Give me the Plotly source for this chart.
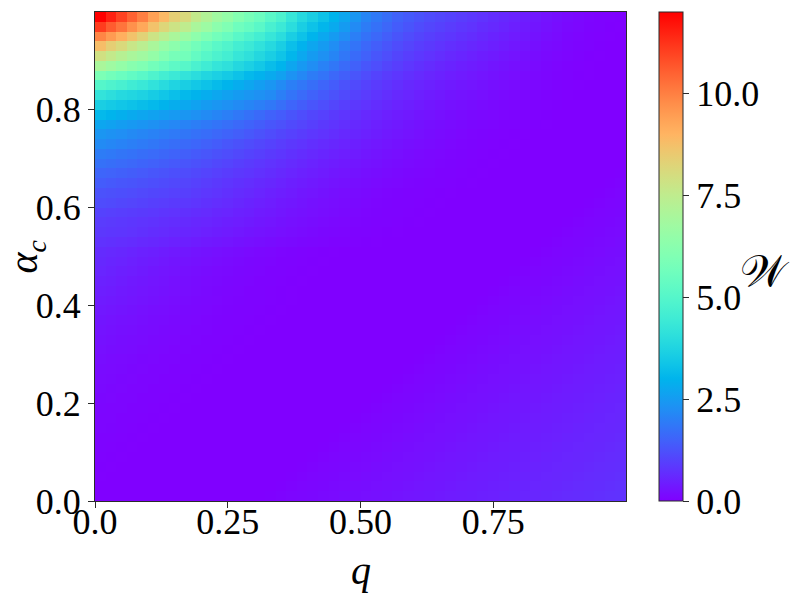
import math
import plotly.graph_objects as go

# q (x) cell centres and alpha_c (y) cell centres, top row first
Q = [0.01,0.03,0.05,0.07,0.09,0.11,0.13,0.15,0.17,0.19,0.21,0.23,0.25,0.27,0.29,0.31,0.33,0.35,0.37,0.39,
     0.41,0.43,0.45,0.47,0.49,0.51,0.53,0.55,0.57,0.59,0.61,0.63,0.65,0.67,0.69,0.71,0.73,0.75,0.77,0.79,
     0.81,0.83,0.85,0.87,0.89,0.91,0.93,0.95,0.97,0.99]
ALPHA = [0.99,0.97,0.95,0.93,0.91,0.89,0.87,0.85,0.83,0.81,0.79,0.77,0.75,0.73,0.71,0.69,0.67,0.65,0.63,0.61,
         0.59,0.57,0.55,0.53,0.51,0.49,0.47,0.45,0.43,0.41,0.39,0.37,0.35,0.33,0.31,0.29,0.27,0.25,0.23,0.21,
         0.19,0.17,0.15,0.13,0.11,0.09,0.07,0.05,0.03,0.01]

# W values, one list per alpha row (top row = alpha 0.99)
W = [
 [12.0,11.5,11.0,10.5,10.0,9.4,8.9,8.4,8.1,7.6, 7.2,6.8,6.5,6.1,5.8,5.5,5.1,4.8,4.3,3.9, 3.6,3.3,3.0,2.7,2.4,2.1,1.9,1.7,1.5,1.38, 1.26,1.16,1.08,1.0,0.92,0.84,0.76,0.68,0.6,0.52, 0.44,0.36,0.29,0.23,0.17,0.12,0.08,0.05,0.03,0.02],
 [11.1,10.6,10.2,9.7,9.25,8.7,8.2,7.8,7.5,7.0, 6.7,6.3,6.0,5.6,5.4,5.1,4.7,4.4,4.0,3.6, 3.3,3.05,2.8,2.5,2.2,1.95,1.75,1.58,1.4,1.28, 1.16,1.06,0.98,0.9,0.83,0.76,0.68,0.61,0.54,0.46, 0.39,0.32,0.25,0.19,0.14,0.1,0.06,0.04,0.02,0.01],
 [9.9,9.5,9.1,8.7,8.3,7.8,7.4,7.0,6.7,6.35, 6.0,5.7,5.45,5.1,4.85,4.6,4.3,4.0,3.6,3.3, 3.0,2.75,2.5,2.25,2.0,1.78,1.6,1.44,1.28,1.16, 1.05,0.96,0.88,0.81,0.74,0.67,0.6,0.53,0.47,0.4, 0.34,0.27,0.21,0.16,0.11,0.08,0.05,0.03,0.01,0.0],
 [8.8,8.4,8.1,7.7,7.4,7.0,6.6,6.3,6.0,5.7, 5.4,5.1,4.9,4.6,4.4,4.15,3.9,3.6,3.25,2.95, 2.7,2.5,2.25,2.0,1.8,1.6,1.44,1.29,1.15,1.04, 0.94,0.86,0.78,0.71,0.65,0.58,0.52,0.46,0.4,0.34, 0.28,0.23,0.17,0.13,0.09,0.06,0.04,0.02,0.0,0.0],
 [7.9,7.6,7.3,7.0,6.8,6.5,6.1,5.8,5.7,5.35, 5.05,4.8,4.6,4.3,4.1,3.85,3.6,3.35,3.05,2.75, 2.5,2.3,2.1,1.85,1.66,1.48,1.32,1.18,1.05,0.94, 0.84,0.76,0.69,0.62,0.56,0.5,0.44,0.39,0.33,0.28, 0.23,0.18,0.14,0.1,0.07,0.04,0.02,0.01,0.0,0.0],
 [7.0,6.75,6.5,6.2,6.0,5.7,5.45,5.2,5.05,4.75, 4.5,4.25,4.1,3.85,3.65,3.45,3.2,3.0,2.7,2.45, 2.25,2.05,1.85,1.65,1.48,1.32,1.18,1.05,0.93,0.83, 0.74,0.66,0.59,0.53,0.47,0.42,0.37,0.32,0.27,0.23, 0.19,0.15,0.11,0.08,0.05,0.03,0.01,0.0,0.0,0.0],
 [5.9,5.7,5.5,5.3,5.1,4.85,4.6,4.4,4.2,4.0, 3.8,3.65,3.5,3.3,3.1,2.95,2.8,2.6,2.35,2.15, 1.95,1.8,1.6,1.45,1.3,1.15,1.02,0.91,0.81,0.72, 0.64,0.57,0.51,0.45,0.4,0.36,0.31,0.27,0.23,0.19, 0.15,0.12,0.09,0.06,0.04,0.02,0.01,0.0,0.0,0.0],
 [5.0,4.85,4.7,4.5,4.35,4.15,3.95,3.75,3.6,3.45, 3.3,3.15,3.0,2.85,2.7,2.55,2.4,2.2,2.0,1.85, 1.7,1.55,1.4,1.25,1.12,1.0,0.89,0.79,0.7,0.62, 0.55,0.49,0.44,0.39,0.35,0.31,0.27,0.23,0.19,0.16, 0.13,0.1,0.07,0.05,0.03,0.01,0.0,0.0,0.0,0.0],
 [4.2,4.05,3.9,3.8,3.7,3.55,3.4,3.25,3.1,2.98, 2.85,2.72,2.6,2.5,2.4,2.3,2.2,2.0,1.8,1.65, 1.5,1.38,1.25,1.12,1.0,0.9,0.8,0.7,0.62,0.55, 0.48,0.42,0.37,0.32,0.28,0.25,0.22,0.18,0.15,0.12, 0.1,0.07,0.05,0.03,0.01,0.0,0.0,0.0,0.0,0.0],
 [3.6,3.5,3.4,3.3,3.2,3.1,2.98,2.86,2.74,2.62, 2.5,2.4,2.3,2.2,2.1,2.0,1.88,1.72,1.55,1.42, 1.3,1.18,1.06,0.95,0.85,0.76,0.67,0.6,0.52,0.46, 0.4,0.35,0.3,0.26,0.23,0.2,0.17,0.14,0.11,0.09, 0.07,0.05,0.03,0.02,0.0,0.0,0.0,0.0,0.0,0.0],
 [3.1,3.0,2.9,2.8,2.7,2.62,2.55,2.47,2.4,2.3, 2.2,2.1,2.0,1.88,1.76,1.63,1.5,1.4,1.28,1.17, 1.07,0.98,0.88,0.79,0.7,0.62,0.55,0.48,0.42,0.37, 0.32,0.28,0.24,0.2,0.17,0.14,0.12,0.1,0.08,0.06, 0.04,0.03,0.02,0.0,0.0,0.0,0.0,0.0,0.0,0.0],
 [2.7,2.62,2.54,2.46,2.38,2.3,2.22,2.14,2.06,1.98, 1.9,1.81,1.72,1.62,1.52,1.42,1.32,1.23,1.13,1.04, 0.95,0.86,0.78,0.7,0.62,0.55,0.48,0.42,0.37,0.32, 0.27,0.23,0.2,0.16,0.13,0.11,0.09,0.07,0.05,0.04, 0.03,0.02,0.01,0.0,0.0,0.0,0.0,0.0,0.0,0.0],
 [2.4,2.33,2.26,2.19,2.12,2.05,1.98,1.91,1.84,1.76, 1.68,1.6,1.52,1.43,1.34,1.25,1.16,1.07,0.99,0.91, 0.83,0.76,0.69,0.62,0.56,0.5,0.44,0.38,0.33,0.28, 0.24,0.2,0.16,0.13,0.1,0.08,0.06,0.04,0.03,0.02, 0.01,0.0,0.0,0.0,0.0,0.0,0.0,0.0,0.0,0.0],
 [2.2,2.13,2.06,1.99,1.92,1.85,1.78,1.71,1.64,1.56, 1.48,1.4,1.32,1.24,1.16,1.08,1.0,0.92,0.85,0.78, 0.71,0.64,0.58,0.52,0.46,0.41,0.36,0.31,0.27,0.23, 0.19,0.16,0.13,0.1,0.08,0.06,0.04,0.03,0.02,0.01, 0.0,0.0,0.0,0.0,0.0,0.0,0.0,0.0,0.0,0.0],
 [1.95,1.89,1.83,1.77,1.71,1.65,1.59,1.52,1.45,1.38, 1.31,1.24,1.17,1.1,1.02,0.95,0.88,0.81,0.74,0.68, 0.62,0.56,0.5,0.45,0.4,0.35,0.3,0.26,0.22,0.18, 0.15,0.12,0.1,0.08,0.06,0.04,0.03,0.02,0.01,0.0, 0.0,0.0,0.0,0.0,0.0,0.0,0.0,0.0,0.0,0.0],
 [1.75,1.7,1.65,1.6,1.54,1.48,1.42,1.36,1.3,1.24, 1.17,1.1,1.03,0.96,0.89,0.83,0.76,0.7,0.64,0.58, 0.52,0.47,0.42,0.37,0.33,0.29,0.25,0.21,0.18,0.15, 0.12,0.1,0.08,0.06,0.04,0.03,0.02,0.01,0.0,0.0, 0.0,0.0,0.0,0.0,0.0,0.0,0.0,0.0,0.0,0.0],
 [1.55,1.51,1.47,1.42,1.37,1.32,1.27,1.21,1.15,1.09, 1.03,0.97,0.91,0.85,0.79,0.73,0.67,0.61,0.55,0.5, 0.45,0.4,0.35,0.31,0.27,0.23,0.2,0.17,0.14,0.11, 0.09,0.07,0.05,0.04,0.03,0.02,0.01,0.0,0.0,0.0, 0.0,0.0,0.0,0.0,0.0,0.0,0.0,0.0,0.0,0.02],
 [1.4,1.36,1.32,1.28,1.24,1.19,1.14,1.09,1.04,0.98, 0.92,0.86,0.8,0.74,0.69,0.63,0.58,0.52,0.47,0.42, 0.37,0.33,0.29,0.25,0.21,0.18,0.15,0.12,0.1,0.08, 0.06,0.05,0.04,0.03,0.02,0.01,0.0,0.0,0.0,0.0, 0.0,0.0,0.0,0.0,0.0,0.0,0.0,0.0,0.02,0.04],
 [1.25,1.22,1.19,1.15,1.11,1.07,1.03,0.99,0.95,0.89, 0.83,0.78,0.72,0.66,0.61,0.55,0.5,0.45,0.4,0.35, 0.31,0.27,0.23,0.19,0.16,0.13,0.1,0.08,0.06,0.05, 0.04,0.03,0.02,0.01,0.0,0.0,0.0,0.0,0.0,0.0, 0.0,0.0,0.0,0.0,0.0,0.0,0.0,0.02,0.04,0.07],
 [1.15,1.12,1.08,1.04,1.0,0.96,0.92,0.88,0.84,0.79, 0.74,0.69,0.64,0.58,0.53,0.48,0.43,0.38,0.34,0.3, 0.26,0.22,0.19,0.16,0.13,0.1,0.08,0.06,0.05,0.04, 0.03,0.02,0.01,0.0,0.0,0.0,0.0,0.0,0.0,0.0, 0.0,0.0,0.0,0.0,0.0,0.0,0.02,0.04,0.07,0.09],
 [1.0,0.97,0.94,0.91,0.88,0.84,0.8,0.76,0.72,0.68, 0.64,0.59,0.55,0.5,0.46,0.41,0.37,0.33,0.29,0.25, 0.22,0.19,0.16,0.13,0.1,0.08,0.06,0.05,0.04,0.03, 0.02,0.01,0.0,0.0,0.0,0.0,0.0,0.0,0.0,0.0, 0.0,0.0,0.0,0.0,0.0,0.02,0.04,0.07,0.09,0.11],
 [0.9,0.87,0.84,0.81,0.78,0.75,0.71,0.67,0.63,0.59, 0.55,0.51,0.47,0.43,0.39,0.35,0.31,0.27,0.24,0.21, 0.18,0.15,0.12,0.1,0.08,0.06,0.05,0.04,0.03,0.02, 0.01,0.0,0.0,0.0,0.0,0.0,0.0,0.0,0.0,0.0, 0.0,0.0,0.0,0.0,0.02,0.04,0.07,0.09,0.11,0.13],
 [0.85,0.82,0.79,0.76,0.72,0.68,0.64,0.6,0.56,0.52, 0.48,0.44,0.4,0.36,0.32,0.28,0.25,0.22,0.19,0.16, 0.13,0.11,0.09,0.07,0.05,0.04,0.03,0.02,0.01,0.0, 0.0,0.0,0.0,0.0,0.0,0.0,0.0,0.0,0.0,0.0, 0.0,0.0,0.0,0.02,0.04,0.07,0.09,0.11,0.13,0.15],
 [0.75,0.72,0.69,0.66,0.62,0.58,0.54,0.5,0.46,0.42, 0.38,0.34,0.31,0.27,0.24,0.21,0.18,0.15,0.13,0.11, 0.09,0.07,0.05,0.04,0.03,0.02,0.01,0.0,0.0,0.0, 0.0,0.0,0.0,0.0,0.0,0.0,0.0,0.0,0.0,0.0, 0.0,0.0,0.02,0.04,0.07,0.09,0.11,0.13,0.15,0.18],
 [0.65,0.62,0.58,0.54,0.5,0.46,0.42,0.38,0.34,0.3, 0.27,0.24,0.21,0.18,0.15,0.12,0.1,0.08,0.06,0.04, 0.03,0.02,0.01,0.0,0.0,0.0,0.0,0.0,0.0,0.0, 0.0,0.0,0.0,0.0,0.0,0.0,0.0,0.0,0.0,0.0, 0.0,0.02,0.04,0.07,0.09,0.11,0.13,0.15,0.18,0.2],
 [0.6,0.56,0.52,0.48,0.44,0.4,0.36,0.32,0.28,0.25, 0.22,0.19,0.16,0.13,0.11,0.09,0.07,0.05,0.04,0.03, 0.02,0.01,0.0,0.0,0.0,0.0,0.0,0.0,0.0,0.0, 0.0,0.0,0.0,0.0,0.0,0.0,0.0,0.0,0.0,0.0, 0.02,0.04,0.07,0.09,0.11,0.13,0.15,0.18,0.2,0.22],
 [0.55,0.51,0.47,0.43,0.39,0.35,0.31,0.28,0.24,0.21, 0.18,0.15,0.13,0.11,0.09,0.07,0.05,0.04,0.03,0.02, 0.01,0.0,0.0,0.0,0.0,0.0,0.0,0.0,0.0,0.0, 0.0,0.0,0.0,0.0,0.0,0.0,0.0,0.0,0.0,0.02, 0.04,0.07,0.09,0.11,0.13,0.15,0.18,0.2,0.22,0.24],
 [0.5,0.46,0.42,0.38,0.35,0.31,0.28,0.24,0.21,0.18, 0.15,0.13,0.11,0.09,0.07,0.05,0.04,0.03,0.02,0.01, 0.0,0.0,0.0,0.0,0.0,0.0,0.0,0.0,0.0,0.0, 0.0,0.0,0.0,0.0,0.0,0.0,0.0,0.0,0.02,0.04, 0.07,0.09,0.11,0.13,0.15,0.18,0.2,0.22,0.24,0.26],
 [0.45,0.42,0.38,0.35,0.31,0.28,0.25,0.22,0.19,0.16, 0.13,0.11,0.09,0.07,0.05,0.04,0.03,0.02,0.01,0.0, 0.0,0.0,0.0,0.0,0.0,0.0,0.0,0.0,0.0,0.0, 0.0,0.0,0.0,0.0,0.0,0.0,0.0,0.02,0.04,0.07, 0.09,0.11,0.13,0.15,0.18,0.2,0.22,0.24,0.26,0.29],
 [0.4,0.37,0.34,0.31,0.28,0.25,0.22,0.19,0.16,0.14, 0.12,0.1,0.08,0.06,0.05,0.04,0.03,0.02,0.01,0.0, 0.0,0.0,0.0,0.0,0.0,0.0,0.0,0.0,0.0,0.0, 0.0,0.0,0.0,0.0,0.0,0.0,0.02,0.04,0.07,0.09, 0.11,0.13,0.15,0.18,0.2,0.22,0.24,0.26,0.29,0.31],
 [0.36,0.33,0.3,0.27,0.24,0.21,0.19,0.16,0.14,0.12, 0.1,0.08,0.06,0.05,0.04,0.03,0.02,0.01,0.0,0.0, 0.0,0.0,0.0,0.0,0.0,0.0,0.0,0.0,0.0,0.0, 0.0,0.0,0.0,0.0,0.0,0.02,0.04,0.07,0.09,0.11, 0.13,0.15,0.18,0.2,0.22,0.24,0.26,0.29,0.31,0.33],
 [0.32,0.29,0.26,0.24,0.21,0.18,0.16,0.14,0.12,0.1, 0.08,0.06,0.05,0.04,0.03,0.02,0.01,0.0,0.0,0.0, 0.0,0.0,0.0,0.0,0.0,0.0,0.0,0.0,0.0,0.0, 0.0,0.0,0.0,0.0,0.02,0.04,0.07,0.09,0.11,0.13, 0.15,0.18,0.2,0.22,0.24,0.26,0.29,0.31,0.33,0.35],
 [0.28,0.26,0.23,0.21,0.18,0.16,0.14,0.12,0.1,0.08, 0.07,0.05,0.04,0.03,0.02,0.01,0.0,0.0,0.0,0.0, 0.0,0.0,0.0,0.0,0.0,0.0,0.0,0.0,0.0,0.0, 0.0,0.0,0.0,0.02,0.04,0.07,0.09,0.11,0.13,0.15, 0.18,0.2,0.22,0.24,0.26,0.29,0.31,0.33,0.35,0.37],
 [0.25,0.23,0.2,0.18,0.16,0.14,0.12,0.1,0.08,0.07, 0.05,0.04,0.03,0.02,0.01,0.0,0.0,0.0,0.0,0.0, 0.0,0.0,0.0,0.0,0.0,0.0,0.0,0.0,0.0,0.0, 0.0,0.0,0.02,0.04,0.07,0.09,0.11,0.13,0.15,0.18, 0.2,0.22,0.24,0.26,0.29,0.31,0.33,0.35,0.37,0.4],
 [0.22,0.2,0.18,0.16,0.14,0.12,0.1,0.08,0.07,0.05, 0.04,0.03,0.02,0.01,0.0,0.0,0.0,0.0,0.0,0.0, 0.0,0.0,0.0,0.0,0.0,0.0,0.0,0.0,0.0,0.0, 0.0,0.02,0.04,0.07,0.09,0.11,0.13,0.15,0.18,0.2, 0.22,0.24,0.26,0.29,0.31,0.33,0.35,0.37,0.4,0.42],
 [0.19,0.17,0.15,0.13,0.11,0.1,0.08,0.07,0.05,0.04, 0.03,0.02,0.01,0.0,0.0,0.0,0.0,0.0,0.0,0.0, 0.0,0.0,0.0,0.0,0.0,0.0,0.0,0.0,0.0,0.0, 0.02,0.04,0.07,0.09,0.11,0.13,0.15,0.18,0.2,0.22, 0.24,0.26,0.29,0.31,0.33,0.35,0.37,0.4,0.42,0.44],
 [0.17,0.15,0.13,0.11,0.1,0.08,0.07,0.05,0.04,0.03, 0.02,0.01,0.0,0.0,0.0,0.0,0.0,0.0,0.0,0.0, 0.0,0.0,0.0,0.0,0.0,0.0,0.0,0.0,0.0,0.02, 0.04,0.07,0.09,0.11,0.13,0.15,0.18,0.2,0.22,0.24, 0.26,0.29,0.31,0.33,0.35,0.37,0.4,0.42,0.44,0.46],
 [0.15,0.13,0.11,0.1,0.08,0.07,0.05,0.04,0.03,0.02, 0.01,0.0,0.0,0.0,0.0,0.0,0.0,0.0,0.0,0.0, 0.0,0.0,0.0,0.0,0.0,0.0,0.0,0.0,0.02,0.04, 0.07,0.09,0.11,0.13,0.15,0.18,0.2,0.22,0.24,0.26, 0.29,0.31,0.33,0.35,0.37,0.4,0.42,0.44,0.46,0.48],
 [0.13,0.11,0.1,0.08,0.07,0.05,0.04,0.03,0.02,0.01, 0.0,0.0,0.0,0.0,0.0,0.0,0.0,0.0,0.0,0.0, 0.0,0.0,0.0,0.0,0.0,0.0,0.0,0.02,0.04,0.07, 0.09,0.11,0.13,0.15,0.18,0.2,0.22,0.24,0.26,0.29, 0.31,0.33,0.35,0.37,0.4,0.42,0.44,0.46,0.48,0.51],
 [0.11,0.1,0.08,0.07,0.05,0.04,0.03,0.02,0.01,0.0, 0.0,0.0,0.0,0.0,0.0,0.0,0.0,0.0,0.0,0.0, 0.0,0.0,0.0,0.0,0.0,0.0,0.02,0.04,0.07,0.09, 0.11,0.13,0.15,0.18,0.2,0.22,0.24,0.26,0.29,0.31, 0.33,0.35,0.37,0.4,0.42,0.44,0.46,0.48,0.51,0.53],
 [0.09,0.08,0.07,0.05,0.04,0.03,0.02,0.01,0.0,0.0, 0.0,0.0,0.0,0.0,0.0,0.0,0.0,0.0,0.0,0.0, 0.0,0.0,0.0,0.0,0.0,0.02,0.04,0.07,0.09,0.11, 0.13,0.15,0.18,0.2,0.22,0.24,0.26,0.29,0.31,0.33, 0.35,0.37,0.4,0.42,0.44,0.46,0.48,0.51,0.53,0.55],
 [0.08,0.07,0.05,0.04,0.03,0.02,0.01,0.0,0.0,0.0, 0.0,0.0,0.0,0.0,0.0,0.0,0.0,0.0,0.0,0.0, 0.0,0.0,0.0,0.0,0.02,0.04,0.07,0.09,0.11,0.13, 0.15,0.18,0.2,0.22,0.24,0.26,0.29,0.31,0.33,0.35, 0.37,0.4,0.42,0.44,0.46,0.48,0.51,0.53,0.55,0.57],
 [0.07,0.06,0.04,0.03,0.02,0.01,0.0,0.0,0.0,0.0, 0.0,0.0,0.0,0.0,0.0,0.0,0.0,0.0,0.0,0.0, 0.0,0.0,0.0,0.02,0.04,0.07,0.09,0.11,0.13,0.15, 0.18,0.2,0.22,0.24,0.26,0.29,0.31,0.33,0.35,0.37, 0.4,0.42,0.44,0.46,0.48,0.51,0.53,0.55,0.57,0.59],
 [0.05,0.04,0.03,0.02,0.01,0.0,0.0,0.0,0.0,0.0, 0.0,0.0,0.0,0.0,0.0,0.0,0.0,0.0,0.0,0.0, 0.0,0.0,0.02,0.04,0.07,0.09,0.11,0.13,0.15,0.18, 0.2,0.22,0.24,0.26,0.29,0.31,0.33,0.35,0.37,0.4, 0.42,0.44,0.46,0.48,0.51,0.53,0.55,0.57,0.59,0.62],
 [0.04,0.03,0.02,0.01,0.0,0.0,0.0,0.0,0.0,0.0, 0.0,0.0,0.0,0.0,0.0,0.0,0.0,0.0,0.0,0.0, 0.0,0.02,0.04,0.07,0.09,0.11,0.13,0.15,0.18,0.2, 0.22,0.24,0.26,0.29,0.31,0.33,0.35,0.37,0.4,0.42, 0.44,0.46,0.48,0.51,0.53,0.55,0.57,0.59,0.62,0.64],
 [0.03,0.02,0.01,0.0,0.0,0.0,0.0,0.0,0.0,0.0, 0.0,0.0,0.0,0.0,0.0,0.0,0.0,0.0,0.0,0.0, 0.02,0.04,0.07,0.09,0.11,0.13,0.15,0.18,0.2,0.22, 0.24,0.26,0.29,0.31,0.33,0.35,0.37,0.4,0.42,0.44, 0.46,0.48,0.51,0.53,0.55,0.57,0.59,0.62,0.64,0.66],
 [0.02,0.01,0.0,0.0,0.0,0.0,0.0,0.0,0.0,0.0, 0.0,0.0,0.0,0.0,0.0,0.0,0.0,0.0,0.0,0.02, 0.04,0.07,0.09,0.11,0.13,0.15,0.18,0.2,0.22,0.24, 0.26,0.29,0.31,0.33,0.35,0.37,0.4,0.42,0.44,0.46, 0.48,0.51,0.53,0.55,0.57,0.59,0.62,0.64,0.66,0.68],
 [0.01,0.0,0.0,0.0,0.0,0.0,0.0,0.0,0.0,0.0, 0.0,0.0,0.0,0.0,0.0,0.0,0.0,0.0,0.02,0.04, 0.07,0.09,0.11,0.13,0.15,0.18,0.2,0.22,0.24,0.26, 0.29,0.31,0.33,0.35,0.37,0.4,0.42,0.44,0.46,0.48, 0.51,0.53,0.55,0.57,0.59,0.62,0.64,0.66,0.68,0.7],
 [0.0,0.0,0.0,0.0,0.0,0.0,0.0,0.0,0.0,0.0, 0.0,0.0,0.0,0.0,0.0,0.0,0.0,0.02,0.04,0.07, 0.09,0.11,0.13,0.15,0.18,0.2,0.22,0.24,0.26,0.29, 0.31,0.33,0.35,0.37,0.4,0.42,0.44,0.46,0.48,0.51, 0.53,0.55,0.57,0.59,0.62,0.64,0.66,0.68,0.7,0.73],
 [0.0,0.0,0.0,0.0,0.0,0.0,0.0,0.0,0.0,0.0, 0.0,0.0,0.0,0.0,0.0,0.0,0.02,0.04,0.07,0.09, 0.11,0.13,0.15,0.18,0.2,0.22,0.24,0.26,0.29,0.31, 0.33,0.35,0.37,0.4,0.42,0.44,0.46,0.48,0.51,0.53, 0.55,0.57,0.59,0.62,0.64,0.66,0.68,0.7,0.73,0.75],
]

X_TICKS = [0.0, 0.25, 0.5, 0.75]
X_TICK_LABELS = ["0.0", "0.25", "0.50", "0.75"]
Y_TICKS = [0.0, 0.2, 0.4, 0.6, 0.8]
Y_TICK_LABELS = ["0.0", "0.2", "0.4", "0.6", "0.8"]
CB_TICKS = [0.0, 2.5, 5.0, 7.5, 10.0]
CB_TICK_LABELS = ["0.0", "2.5", "5.0", "7.5", "10.0"]
Z_MIN, Z_MAX = 0.0, 12.0

for k, row in enumerate(W):
    if len(row) != len(Q):
        print("row", k, "has", len(row), "values")


def rainbow_scale(n=33):
    """matplotlib 'rainbow' colormap sampled as a plotly colorscale."""
    out = []
    for i in range(n):
        t = i / (n - 1)
        r = min(1.0, abs(2 * t - 0.5))
        g = math.sin(math.pi * t)
        b = math.cos(math.pi * t / 2)
        out.append([t, "rgb(%d,%d,%d)" % (round(255 * r), round(255 * g), round(255 * max(b, 0)))])
    return out


FONT = "Liberation Serif, DejaVu Serif, serif"
LINE = "#2b2b2b"

fig = go.Figure(
    go.Heatmap(
        x=Q, y=ALPHA, z=W,
        zmin=Z_MIN, zmax=Z_MAX,
        colorscale=rainbow_scale(),
        colorbar=dict(
            x=1.062, xanchor="left", xpad=0,
            y=0.5, yanchor="middle", len=1.0, lenmode="fraction", ypad=0,
            thickness=24,
            outlinewidth=1, outlinecolor=LINE,
            tickmode="array", tickvals=CB_TICKS, ticktext=CB_TICK_LABELS,
            ticks="outside", ticklen=6, tickwidth=1, tickcolor=LINE,
            tickfont=dict(family=FONT, size=36, color="black"),
        ),
        hoverinfo="skip",
    )
)

axis_common = dict(
    showgrid=False, zeroline=False, automargin=False,
    showline=True, linecolor=LINE, linewidth=1.2, mirror=True,
    ticks="outside", ticklen=6, tickwidth=1, tickcolor=LINE,
    tickfont=dict(family=FONT, size=36, color="black"),
    tickmode="array",
)

fig.update_layout(
    width=793, height=594,
    margin=dict(l=95, r=167, t=12, b=93, pad=0, autoexpand=False),
    paper_bgcolor="white", plot_bgcolor="white",
    xaxis=dict(range=[0, 1], tickvals=X_TICKS, ticktext=X_TICK_LABELS,
               ticklabelstandoff=-17, **axis_common),
    yaxis=dict(range=[0, 1], tickvals=Y_TICKS, ticktext=Y_TICK_LABELS, **axis_common),
    annotations=[
        dict(text="<i>q</i>", xref="paper", yref="paper", x=0.5, y=-0.143,
             xanchor="center", yanchor="middle", showarrow=False,
             font=dict(family=FONT, size=40, color="black")),
        dict(text="<i>α</i><sub><i>c</i></sub>", xref="paper", yref="paper", x=-0.13, y=0.5,
             xanchor="center", yanchor="middle", textangle=-90, showarrow=False,
             font=dict(family=FONT, size=40, color="black")),
        dict(text="𝒲", xref="paper", yref="paper", x=1.262, y=0.47,
             xanchor="center", yanchor="middle", showarrow=False,
             font=dict(family=FONT, size=44, color="black")),
    ],
)

fig.write_html("out.html",
               config={"displayModeBar": False},
               post_script="document.body.style.margin='0';document.body.style.padding='0';")
